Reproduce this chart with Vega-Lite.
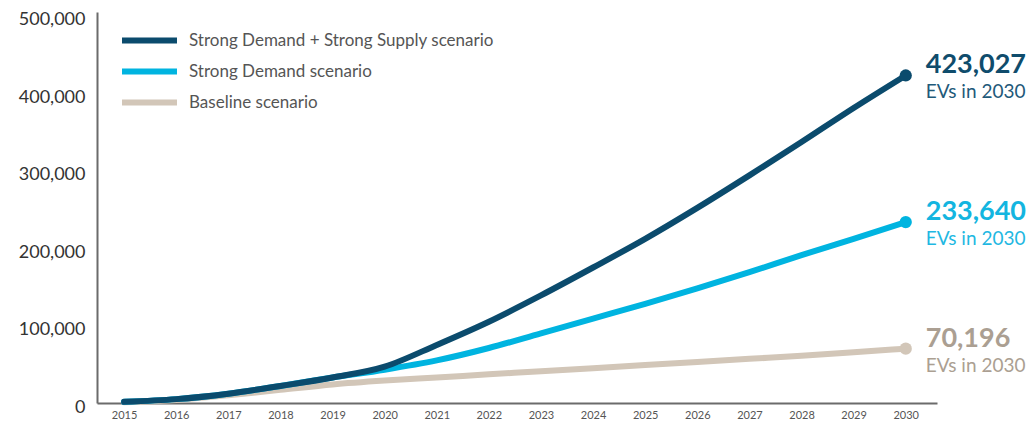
{
  "$schema": "https://vega.github.io/schema/vega-lite/v6.json",
  "width": 840,
  "height": 391,
  "autosize": "none",
  "padding": {"left": 97, "top": 12, "right": 89, "bottom": 20},
  "background": "white",
  "config": {"view": {"stroke": null}, "font": "Lato"},
  "data": {"values": [
    {"year": 2015, "scenario": "Baseline scenario", "value": 1000},
    {"year": 2016, "scenario": "Baseline scenario", "value": 4000},
    {"year": 2017, "scenario": "Baseline scenario", "value": 10000},
    {"year": 2018, "scenario": "Baseline scenario", "value": 17000},
    {"year": 2019, "scenario": "Baseline scenario", "value": 24000},
    {"year": 2020, "scenario": "Baseline scenario", "value": 29000},
    {"year": 2021, "scenario": "Baseline scenario", "value": 33000},
    {"year": 2022, "scenario": "Baseline scenario", "value": 37000},
    {"year": 2023, "scenario": "Baseline scenario", "value": 41000},
    {"year": 2024, "scenario": "Baseline scenario", "value": 45000},
    {"year": 2025, "scenario": "Baseline scenario", "value": 49000},
    {"year": 2026, "scenario": "Baseline scenario", "value": 53000},
    {"year": 2027, "scenario": "Baseline scenario", "value": 57000},
    {"year": 2028, "scenario": "Baseline scenario", "value": 61000},
    {"year": 2029, "scenario": "Baseline scenario", "value": 65500},
    {"year": 2030, "scenario": "Baseline scenario", "value": 70196},
    {"year": 2015, "scenario": "Strong Demand scenario", "value": 1500},
    {"year": 2016, "scenario": "Strong Demand scenario", "value": 5000},
    {"year": 2017, "scenario": "Strong Demand scenario", "value": 12000},
    {"year": 2018, "scenario": "Strong Demand scenario", "value": 22000},
    {"year": 2019, "scenario": "Strong Demand scenario", "value": 33000},
    {"year": 2020, "scenario": "Strong Demand scenario", "value": 43000},
    {"year": 2021, "scenario": "Strong Demand scenario", "value": 55000},
    {"year": 2022, "scenario": "Strong Demand scenario", "value": 71000},
    {"year": 2023, "scenario": "Strong Demand scenario", "value": 90000},
    {"year": 2024, "scenario": "Strong Demand scenario", "value": 109000},
    {"year": 2025, "scenario": "Strong Demand scenario", "value": 128000},
    {"year": 2026, "scenario": "Strong Demand scenario", "value": 148000},
    {"year": 2027, "scenario": "Strong Demand scenario", "value": 169000},
    {"year": 2028, "scenario": "Strong Demand scenario", "value": 191000},
    {"year": 2029, "scenario": "Strong Demand scenario", "value": 212000},
    {"year": 2030, "scenario": "Strong Demand scenario", "value": 233640},
    {"year": 2015, "scenario": "Strong Demand + Strong Supply scenario", "value": 1500},
    {"year": 2016, "scenario": "Strong Demand + Strong Supply scenario", "value": 5000},
    {"year": 2017, "scenario": "Strong Demand + Strong Supply scenario", "value": 12000},
    {"year": 2018, "scenario": "Strong Demand + Strong Supply scenario", "value": 22000},
    {"year": 2019, "scenario": "Strong Demand + Strong Supply scenario", "value": 33000},
    {"year": 2020, "scenario": "Strong Demand + Strong Supply scenario", "value": 47000},
    {"year": 2021, "scenario": "Strong Demand + Strong Supply scenario", "value": 75000},
    {"year": 2022, "scenario": "Strong Demand + Strong Supply scenario", "value": 105000},
    {"year": 2023, "scenario": "Strong Demand + Strong Supply scenario", "value": 139000},
    {"year": 2024, "scenario": "Strong Demand + Strong Supply scenario", "value": 175000},
    {"year": 2025, "scenario": "Strong Demand + Strong Supply scenario", "value": 212000},
    {"year": 2026, "scenario": "Strong Demand + Strong Supply scenario", "value": 252000},
    {"year": 2027, "scenario": "Strong Demand + Strong Supply scenario", "value": 294000},
    {"year": 2028, "scenario": "Strong Demand + Strong Supply scenario", "value": 337000},
    {"year": 2029, "scenario": "Strong Demand + Strong Supply scenario", "value": 381000},
    {"year": 2030, "scenario": "Strong Demand + Strong Supply scenario", "value": 423027}
  ]},
  "encoding": {
    "x": {
      "field": "year", "type": "quantitative",
      "scale": {"domain": [2014.48, 2030.6], "nice": false, "zero": false},
      "axis": {
        "title": null, "values": [2015,2016,2017,2018,2019,2020,2021,2022,2023,2024,2025,2026,2027,2028,2029,2030],
        "format": "d", "grid": false, "ticks": false, "labelFontSize": 11, "labelColor": "#555555",
        "labelPadding": 6, "domainColor": "#6b6b6b", "domainWidth": 2, "labelFont": "Lato"
      }
    },
    "y": {
      "field": "value", "type": "quantitative",
      "scale": {"domain": [0, 505000], "nice": false},
      "axis": {
        "title": null, "values": [0,100000,200000,300000,400000,500000], "format": ",d",
        "grid": false, "ticks": false, "labelFontSize": 18, "labelColor": "#333333",
        "labelPadding": 12, "labelOffset": 4, "domainColor": "#6b6b6b", "domainWidth": 2, "labelFont": "Lato"
      }
    }
  },
  "layer": [
    {
      "mark": {"type": "line", "strokeWidth": 6, "interpolate": "monotone", "strokeCap": "round"},
      "encoding": {
        "color": {
          "field": "scenario", "type": "nominal",
          "scale": {
            "domain": ["Strong Demand + Strong Supply scenario", "Strong Demand scenario", "Baseline scenario"],
            "range": ["#0b4b6d", "#00b4e0", "#d2c6b8"]
          },
          "legend": {
            "title": null, "orient": "none", "legendX": 40, "legendY": 16, "padding": 0,
            "symbolType": "M-3,0H3", "symbolSize": 336, "symbolStrokeWidth": 6,
            "labelFontSize": 17, "labelColor": "#555555", "labelOffset": 27, "rowPadding": 6,
            "labelFont": "Lato", "labelLimit": 500
          }
        }
      }
    },
    {
      "transform": [{"filter": "datum.year == 2030"}],
      "mark": {"type": "point", "filled": true, "opacity": 1, "size": 150},
      "encoding": {
        "color": {
          "field": "scenario", "type": "nominal", "legend": null,
          "scale": {
            "domain": ["Strong Demand + Strong Supply scenario", "Strong Demand scenario", "Baseline scenario"],
            "range": ["#0b4b6d", "#00b4e0", "#d2c6b8"]
          }
        }
      }
    },
    {
      "transform": [{"filter": "datum.year == 2030"}],
      "mark": {"type": "text", "align": "left", "baseline": "middle", "dx": 20, "dy": -10, "fontSize": 27, "fontWeight": "bold", "font": "Lato"},
      "encoding": {
        "text": {"field": "value", "type": "quantitative", "format": ",d"},
        "color": {
          "field": "scenario", "type": "nominal", "legend": null,
          "scale": {
            "domain": ["Strong Demand + Strong Supply scenario", "Strong Demand scenario", "Baseline scenario"],
            "range": ["#0f4c6c", "#13b5e0", "#ab9f92"]
          }
        }
      }
    },
    {
      "transform": [{"filter": "datum.year == 2030"}],
      "mark": {"type": "text", "align": "left", "baseline": "middle", "dx": 20, "dy": 17, "fontSize": 19, "font": "Lato"},
      "encoding": {
        "text": {"value": "EVs in 2030"},
        "color": {
          "field": "scenario", "type": "nominal", "legend": null,
          "scale": {
            "domain": ["Strong Demand + Strong Supply scenario", "Strong Demand scenario", "Baseline scenario"],
            "range": ["#1f5a7a", "#1fb8e2", "#ab9f92"]
          }
        }
      }
    }
  ],
  "resolve": {"scale": {"color": "independent"}}
}
